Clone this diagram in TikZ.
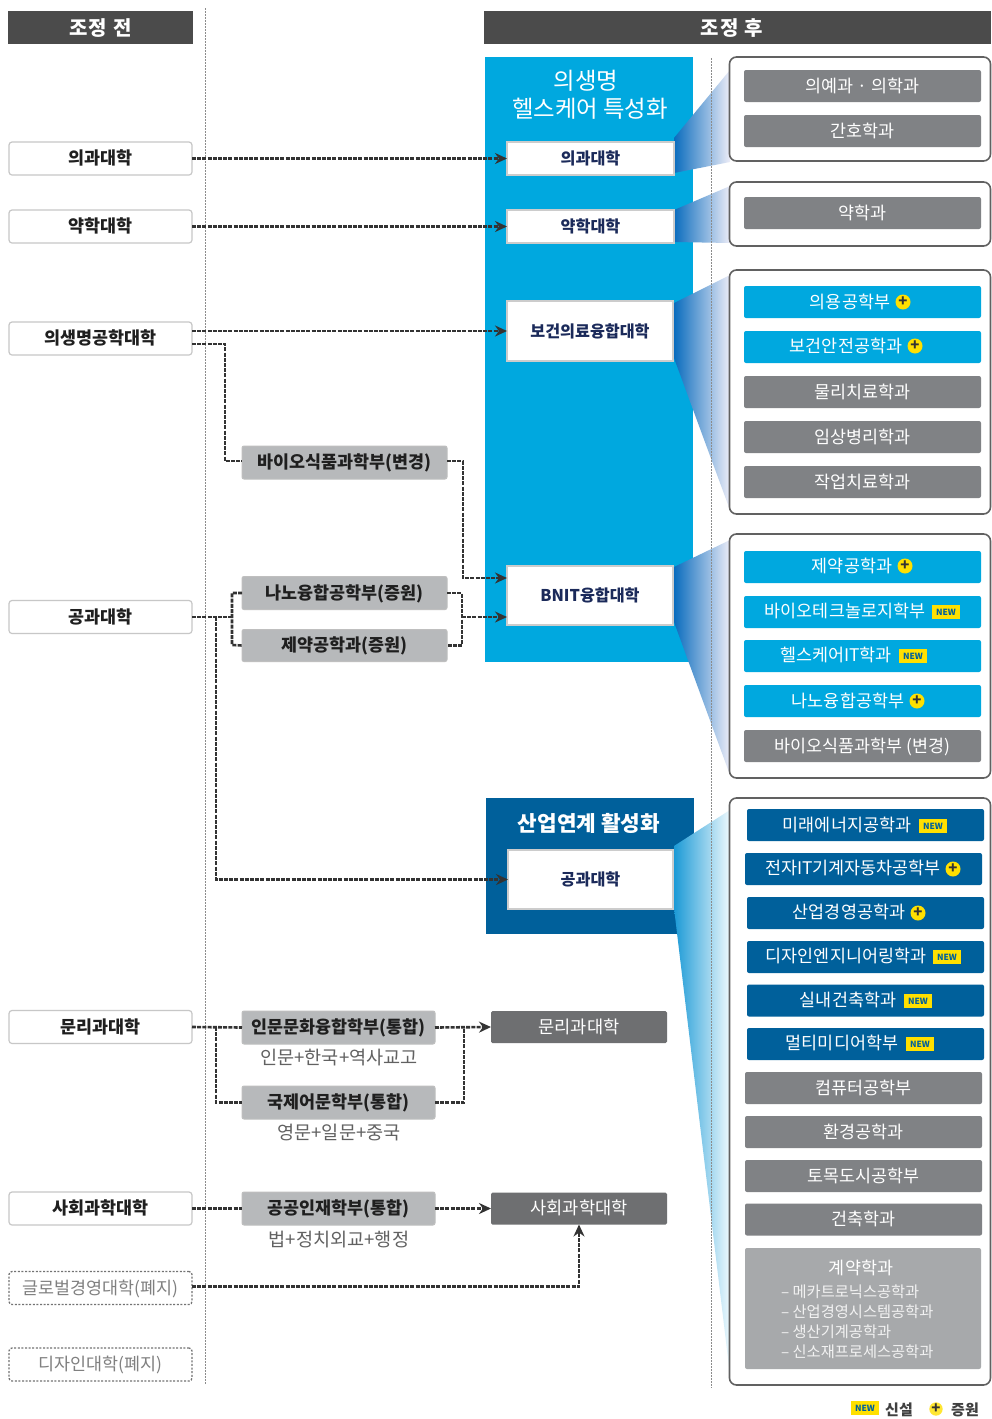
\documentclass[tikz,border=0pt]{standalone}
\usepackage{fontspec}
\setmainfont{Noto Sans CJK KR}
\usetikzlibrary{arrows.meta}
\definecolor{hdr}{HTML}{4B4B4B}
\definecolor{cyanp}{HTML}{00A8DF}
\definecolor{navyp}{HTML}{00609B}
\definecolor{gitem}{HTML}{808285}
\definecolor{gmid}{HTML}{B7B9BB}
\definecolor{gdark}{HTML}{6E6F71}
\definecolor{gcontract}{HTML}{A7A9AB}
\definecolor{ylw}{HTML}{FFE000}
\definecolor{conn}{HTML}{333333}
\definecolor{navytxt}{HTML}{1B2A5A}
\definecolor{fanl}{HTML}{0A6CBE}
\definecolor{fanm}{HTML}{9090CC}
\definecolor{fanr}{HTML}{ECECF7}
\definecolor{fbl}{HTML}{1C9AD6}
\definecolor{fbm}{HTML}{9BD8EF}
\definecolor{fbr}{HTML}{EEF9FD}
\tikzset{
  x=1pt,y=-1pt,
  every node/.style={inner sep=0pt,outer sep=0pt,font=\fontsize{17.4}{19}\selectfont,text height=13.4pt,text depth=1pt},
  hdrbox/.style={fill=hdr,text=white,font=\fontsize{20}{22}\selectfont\bfseries\addfontfeature{LetterSpace=6},text height=15.4pt,text depth=0pt},
  titlelbl/.style={text=white,text height=17pt,text depth=0pt},
  leftbox/.style={draw=black!22,line width=1.2pt,fill=white,rounded corners=3pt,minimum width=183pt,minimum height=33pt,text=black!88,font=\fontsize{17.4}{19}\selectfont\bfseries},
  gonebox/.style={draw=black!55,line width=1.3pt,dash pattern=on 2pt off 1.6pt,fill=white,rounded corners=3pt,minimum width=183pt,minimum height=33pt,text=black!50,font=\fontsize{17.4}{19}\selectfont},
  midbox/.style={draw=black!20,line width=1.2pt,fill=white,text=navytxt,font=\fontsize{16.2}{18}\selectfont\bfseries},
  graybox/.style={draw=black!25,line width=1pt,fill=gmid,rounded corners=2pt,minimum height=33pt,text=black!88,font=\fontsize{17.4}{19}\selectfont\bfseries},
  darkbox/.style={fill=gdark,rounded corners=1.5pt,minimum width=176pt,minimum height=32pt,text=white,font=\fontsize{17.6}{19}\selectfont},
  sublbl/.style={text=black!62,font=\fontsize{18.6}{20}\selectfont},
  panelbox/.style={draw=black!62,line width=1.6pt,fill=white,rounded corners=7pt},
  item/.style={rounded corners=2pt,minimum height=32pt,minimum width=237pt,text=white},
  igray/.style={item,fill=gitem},
  icyan/.style={item,fill=cyanp},
  inavy/.style={item,fill=navyp},
  ilbl/.style={text=white},
  newb/.style={fill=ylw,minimum width=28pt,minimum height=14pt,text=navyp,font=\fontsize{8.5}{9}\selectfont\bfseries,text height=,text depth=},
  plusb/.style={circle,fill=ylw,minimum size=15pt,text=black!80,font=\fontsize{15}{15}\selectfont\bfseries,text height=,text depth=},
  conline/.style={draw=conn,line width=2.6pt,dash pattern=on 4pt off 1.2pt},
  conarrow/.style={conline,-{Stealth[length=12pt,width=11pt]}},
  divline/.style={draw=black!45,line width=0.9pt,dash pattern=on 1.5pt off 1.5pt},
  contract/.style={text=white!90!gray,font=\fontsize{15.3}{17}\selectfont,anchor=west},
}
\begin{document}
\begin{tikzpicture}
\useasboundingbox (0,0) rectangle (991,1419);
\fill[white] (0,0) rectangle (991,1419);
% headers
\node[hdrbox,minimum width=185pt,minimum height=33pt] (h1) at (100.5,27.5) {조정 전};
\node[hdrbox,minimum width=507pt,minimum height=33pt] (h2) at (737.5,27.5) {};
\node[hdrbox,fill=none] (h2t) at (732,27.5) {조정 후};
% dividers
\draw[divline] (205,8) -- (205,1385);
% panels coloured
\fill[cyanp] (485,57) rectangle (693,662);
\fill[navyp] (486,798) rectangle (694,934);
\node[titlelbl,font=\fontsize{23.4}{25}\selectfont] (t1) at (586,81) {의생명};
\node[titlelbl,font=\fontsize{23.4}{25}\selectfont] (t2) at (590,109) {헬스케어 특성화};
\node[titlelbl,font=\fontsize{21.3}{23}\selectfont\bfseries] (t3) at (589,823) {산업연계 활성화};
% fans
\shade[left color=fanl,middle color=fanm,right color=fanr]
  (674,138) -- (730,70) -- (730,162) -- (674,173) -- cycle;
\shade[left color=fanl,middle color=fanm,right color=fanr]
  (674,210) -- (730,186) -- (730,243) -- (674,242) -- cycle;
\shade[left color=fanl,middle color=fanm,right color=fanr]
  (674,303) -- (730,275) -- (730,510) -- (674,358) -- cycle;
\shade[left color=fanl,middle color=fanm,right color=fanr]
  (674,567) -- (730,540) -- (730,775) -- (674,622) -- cycle;
\shade[left color=fbl,middle color=fbm,right color=fbr]
  (674,846) -- (730,810) -- (730,1375) -- (674,908) -- cycle;
\draw[divline] (711,58) -- (711,1388);
% left column
\node[leftbox] (a1) at (100.5,158.5) {의과대학};
\node[leftbox] (a2) at (100.5,226.5) {약학대학};
\node[leftbox] (a3) at (100.5,338.5) {의생명공학대학};
\node[leftbox] (a4) at (100.5,617) {공과대학};
\node[leftbox] (a5) at (100.5,1027) {문리과대학};
\node[leftbox] (a6) at (100.5,1208.5) {사회과학대학};
\node[gonebox] (a7) at (100.5,1288) {글로벌경영대학(폐지)};
\node[gonebox] (a8) at (100.5,1364.5) {디자인대학(폐지)};
% colleges after
\node[midbox,minimum width=167pt,minimum height=33pt] (b1) at (590.5,158.5) {의과대학};
\node[midbox,minimum width=167pt,minimum height=33pt] (b2) at (590.5,226.5) {약학대학};
\node[midbox,minimum width=166pt,minimum height=60pt] (b3) at (590,331) {보건의료융합대학};
\node[midbox,minimum width=166pt,minimum height=59pt] (b4) at (590,595.5) {BNIT융합대학};
\node[midbox,minimum width=165pt,minimum height=59pt] (b5) at (590.5,879.5) {공과대학};
% middle gray
\node[graybox,minimum width=205pt] (c1) at (344.5,462.5) {바이오식품과학부(변경)};
\node[graybox,minimum width=205pt] (c2) at (344.5,593) {나노융합공학부(증원)};
\node[graybox,minimum width=205pt,minimum height=32pt] (c3) at (344.5,645.5) {제약공학과(증원)};
\node[graybox,minimum width=193pt] (c4) at (338.5,1027.5) {인문문화융합학부(통합)};
\node[graybox,minimum width=193pt] (c5) at (338.5,1102.5) {국제어문학부(통합)};
\node[graybox,minimum width=193pt] (c6) at (338.5,1208.5) {공공인재학부(통합)};
\node[sublbl] (s1) at (339,1058) {인문+한국+역사교고};
\node[sublbl] (s2) at (339,1133) {영문+일문+중국};
\node[sublbl] (s3) at (339,1240) {법+정치외교+행정};
\node[darkbox] (d1) at (579,1027) {문리과대학};
\node[darkbox] (d2) at (579,1208.5) {사회과학대학};
% connectors
\draw[conarrow] (a1.east) -- (b1.west);
\draw[conarrow] (a2.east) -- (b2.west);
\draw[conarrow] ([yshift=7.5pt]a3.east) -- (b3.west);
\draw[conline] ([yshift=-5.5pt]a3.east) -| (225,461) -- ([yshift=1.5pt]c1.west);
\draw[conarrow] ([yshift=1.5pt]c1.east) -| (463,578) -- ([yshift=17.5pt]b4.west);
\draw[conline] (a4.east) -- (232,617);
\draw[conline] (c2.west) -| (232,645) -- (c3.west);
\draw[conarrow] (216,617) |- (b5.west);
\draw[conline] (c2.east) -| (462,645.5) -- (c3.east);
\draw[conarrow] (462,617) -- ([yshift=-21.5pt]b4.west);
\draw[conline] (a5.east) -- (c4.west);
\draw[conline] (216,1027) |- (c5.west);
\draw[conarrow] (c4.east) -- (d1.west);
\draw[conline] (c5.east) -| (464,1027);
\draw[conline] (a6.east) -- (c6.west);
\draw[conarrow] (c6.east) -- (d2.west);
\draw[conarrow] ([yshift=1.5pt]a7.east) -| (d2.south);
% right panels
\node[panelbox,minimum width=261pt,minimum height=104pt] (p1) at (860,109) {};
\node[panelbox,minimum width=261pt,minimum height=64pt] (p2) at (860,214) {};
\node[panelbox,minimum width=261pt,minimum height=244pt] (p3) at (860,392) {};
\node[panelbox,minimum width=261pt,minimum height=244pt] (p4) at (860,656) {};
\node[panelbox,minimum width=261pt,minimum height=587pt] (p5) at (860,1091.5) {};
% panel 1, 2
\node[igray] (i1) at (862.5,86) {의예과 · 의학과};
\node[igray] (i2) at (862.5,131) {간호학과};
\node[igray] (i3) at (862.5,213) {약학과};
% panel 3
\node[icyan] (i4) at (862.5,302) {}; \node[ilbl] (l4) at (850,302) {의용공학부}; \node[plusb] (m4) at (903,302) {+};
\node[icyan] (i5) at (862.5,347) {}; \node[ilbl] (l5) at (846,346) {보건안전공학과}; \node[plusb] (m5) at (915,346) {+};
\node[igray] (i6) at (862.5,392) {물리치료학과};
\node[igray] (i7) at (862.5,437) {임상병리학과};
\node[igray] (i8) at (862.5,482) {작업치료학과};
% panel 4
\node[icyan] (i9) at (862.5,567) {}; \node[ilbl] (l9) at (852,566) {제약공학과}; \node[plusb] (m9) at (905,566) {+};
\node[icyan] (i10) at (862.5,612) {}; \node[ilbl] (l10) at (845,611) {바이오테크놀로지학부}; \node[newb] (m10) at (946,612) {NEW};
\node[icyan] (i11) at (862.5,656) {}; \node[ilbl] (l11) at (836,655) {헬스케어IT학과}; \node[newb] (m11) at (913,656) {NEW};
\node[icyan] (i12) at (862.5,701) {}; \node[ilbl] (l12) at (848,701) {나노융합공학부}; \node[plusb] (m12) at (917,701) {+};
\node[igray] (i13) at (862.5,746) {바이오식품과학부 (변경)};
% panel 5
\node[inavy] (i14) at (865.5,825) {}; \node[ilbl] (l14) at (847,825) {미래에너지공학과}; \node[newb] (m14) at (933,826) {NEW};
\node[inavy] (i15) at (863.5,869) {}; \node[ilbl] (l15) at (853,868) {전자IT기계자동차공학부}; \node[plusb] (m15) at (953,869) {+};
\node[inavy] (i16) at (865.5,913) {}; \node[ilbl] (l16) at (849,912) {산업경영공학과}; \node[plusb] (m16) at (918,913) {+};
\node[inavy] (i17) at (865.5,957) {}; \node[ilbl] (l17) at (846,956) {디자인엔지니어링학과}; \node[newb] (m17) at (947,957) {NEW};
\node[inavy] (i18) at (865.5,1000.5) {}; \node[ilbl] (l18) at (848,1000) {실내건축학과}; \node[newb] (m18) at (918,1001) {NEW};
\node[inavy] (i19) at (865.5,1044) {}; \node[ilbl] (l19) at (842,1043) {멀티미디어학부}; \node[newb] (m19) at (920,1044) {NEW};
\node[igray] (i20) at (863.5,1088) {컴퓨터공학부};
\node[igray] (i21) at (863.5,1132) {환경공학과};
\node[igray] (i22) at (863.5,1176) {토목도시공학부};
\node[igray] (i23) at (863.5,1219.5) {건축학과};
\node[fill=gcontract,rounded corners=2pt,minimum width=236pt,minimum height=121pt] (i24) at (863,1308.5) {};
\node[text=white] (l24) at (861,1268) {계약학과};
\node[contract] (k1) at (781,1291) {– 메카트로닉스공학과};
\node[contract] (k2) at (781,1311) {– 산업경영시스템공학과};
\node[contract] (k3) at (781,1331) {– 생산기계공학과};
\node[contract] (k4) at (781,1351) {– 신소재프로세스공학과};
% legend
\node[newb] (n1) at (865,1408) {NEW};
\node[text=black!75,font=\fontsize{15}{17}\selectfont\bfseries] (n2) at (899,1409) {신설};
\node[plusb,minimum size=12pt,fill=ylw!80!white] (n3) at (936,1409) {+};
\node[text=black!75,font=\fontsize{15}{17}\selectfont\bfseries] (n4) at (965,1409) {증원};
\end{tikzpicture}
\end{document}
